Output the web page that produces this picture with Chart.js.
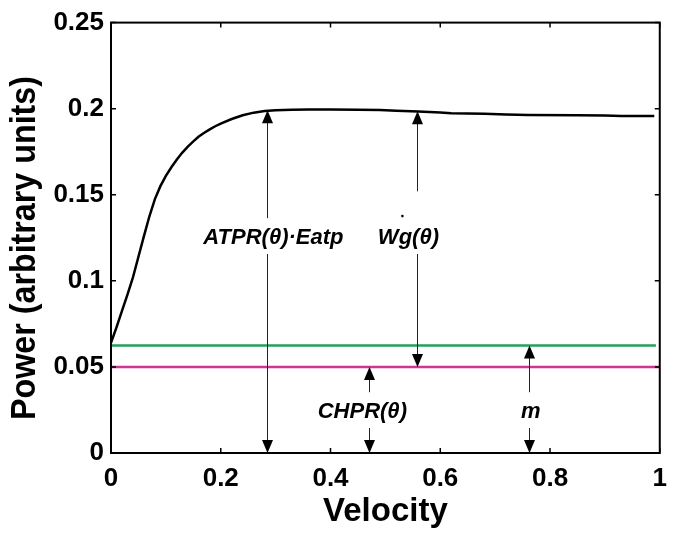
<!DOCTYPE html>
<html>
<head>
<meta charset="utf-8">
<script src="https://cdn.jsdelivr.net/npm/chart.js@4.4.0/dist/chart.umd.min.js"></script>
<style>
  body { margin: 0; background: #fff; }
</style>
</head>
<body>
<canvas id="myChart" width="677" height="540"></canvas>
<script>
// power curve
const velocity = [0, 0.01, 0.02, 0.03, 0.04, 0.05, 0.06, 0.07, 0.08, 0.09, 0.10, 0.11, 0.12, 0.13, 0.14, 0.15, 0.16, 0.17, 0.18, 0.19, 0.20, 0.22, 0.24, 0.26, 0.28, 0.30, 0.33, 0.36, 0.40, 0.45, 0.49, 0.52, 0.56, 0.60, 0.62, 0.68, 0.72, 0.76, 0.85, 0.90, 0.93, 0.99];
const power = [0.064, 0.073, 0.0825, 0.092, 0.102, 0.114, 0.126, 0.1375, 0.1475, 0.155, 0.161, 0.166, 0.1705, 0.1745, 0.178, 0.181, 0.1838, 0.186, 0.188, 0.1898, 0.1913, 0.194, 0.1962, 0.1977, 0.1986, 0.1991, 0.1994, 0.1995, 0.1995, 0.1994, 0.1992, 0.1988, 0.1983, 0.1978, 0.1973, 0.197, 0.1966, 0.1963, 0.1962, 0.196, 0.1957, 0.1957];

// horizontal levels
const greenX = [0, 0.993];
const greenY = [0.0625, 0.0625];
const magentaX = [0, 1];
const magentaY = [0.05, 0.05];

// ticks
const xTickValues = [0, 0.2, 0.4, 0.6, 0.8, 1];
const xTickLabels = ['0', '0.2', '0.4', '0.6', '0.8', '1'];
const yTickValues = [0, 0.05, 0.1, 0.15, 0.2, 0.25];
const yTickLabels = ['0', '0.05', '0.1', '0.15', '0.2', '0.25'];
const yTitle = 'Power (arbitrary units)';

// double arrows and their labels
const arrowX = [0.285, 0.557, 0.47, 0.762];
const arrowLow = [0, 0.05, 0, 0];
const arrowHigh = [0.1991, 0.1985, 0.05, 0.0625];
const gapLow = [0.1156, 0.1156, 0.0145, 0.0145];
const gapHigh = [0.1364, 0.152, 0.0353, 0.0353];
const labelText = ['ATPR(\u03b8)\u00b7Eatp', 'Wg(\u03b8)', 'CHPR(\u03b8)', 'm'];
const labelX = [0.296, 0.542, 0.458, 0.765];
const labelY = [0.125, 0.125, 0.0237, 0.0237];
const dotX = [0.531];
const dotY = [0.1376];

const FONT = "'Liberation Sans', Arial, sans-serif";

const toPts = (xs, ys) => xs.map((x, i) => ({ x: x, y: ys[i] }));

const frame = {
  id: 'frame',
  afterDatasetsDraw(chart) {
    const ctx = chart.ctx;
    const a = chart.chartArea;
    const xs = chart.scales.x, ys = chart.scales.y;
    ctx.save();
    ctx.strokeStyle = '#000';
    ctx.lineWidth = 2;
    ctx.strokeRect(a.left, a.top, a.right - a.left, a.bottom - a.top);
    ctx.lineWidth = 1.5;
    const tl = 5;
    ctx.beginPath();
    xTickValues.forEach(v => {
      const px = xs.getPixelForValue(v);
      ctx.moveTo(px, a.bottom); ctx.lineTo(px, a.bottom - tl);
      ctx.moveTo(px, a.top); ctx.lineTo(px, a.top + tl);
    });
    yTickValues.forEach(v => {
      const py = ys.getPixelForValue(v);
      ctx.moveTo(a.left, py); ctx.lineTo(a.left + tl, py);
      ctx.moveTo(a.right, py); ctx.lineTo(a.right - tl, py);
    });
    ctx.stroke();

    // arrows
    const head = (x, y, dir) => {
      ctx.beginPath();
      ctx.moveTo(x, y);
      ctx.lineTo(x - 5.5, y + dir * 13);
      ctx.lineTo(x + 5.5, y + dir * 13);
      ctx.closePath();
      ctx.fill();
    };
    ctx.fillStyle = '#000';
    ctx.strokeStyle = '#222';
    ctx.lineWidth = 1;
    arrowX.forEach((v, i) => {
      const px = Math.round(xs.getPixelForValue(v)) + 0.5;
      const yLo = ys.getPixelForValue(arrowLow[i]);
      const yHi = ys.getPixelForValue(arrowHigh[i]);
      const gLo = ys.getPixelForValue(gapLow[i]);
      const gHi = ys.getPixelForValue(gapHigh[i]);
      ctx.beginPath();
      ctx.moveTo(px, yHi + 10); ctx.lineTo(px, gHi);
      ctx.moveTo(px, gLo); ctx.lineTo(px, yLo - 10);
      ctx.stroke();
      head(px, yHi, 1);
      head(px, yLo, -1);
    });

    ctx.font = 'italic bold 22px ' + FONT;
    ctx.textAlign = 'center';
    ctx.textBaseline = 'middle';
    labelText.forEach((t, i) => {
      ctx.fillText(t, xs.getPixelForValue(labelX[i]), ys.getPixelForValue(labelY[i]));
    });
    dotX.forEach((v, i) => {
      ctx.beginPath();
      ctx.arc(xs.getPixelForValue(v), ys.getPixelForValue(dotY[i]), 1.3, 0, Math.PI * 2);
      ctx.fill();
    });

    // y title, a bit condensed like the original
    ctx.font = 'bold 35px ' + FONT;
    ctx.textBaseline = 'alphabetic';
    const w = ctx.measureText(yTitle).width;
    ctx.translate(35, 248);
    ctx.rotate(-Math.PI / 2);
    ctx.scale(344 / w, 1);
    ctx.fillText(yTitle, 0, 0);
    ctx.restore();
  }
};

const config = {
  type: 'scatter',
  data: {
    datasets: [
      {
        label: 'magenta',
        data: toPts(magentaX, magentaY),
        showLine: true,
        borderColor: 'rgb(205, 55, 145)',
        borderWidth: 2.5,
        pointRadius: 0
      },
      {
        label: 'green',
        data: toPts(greenX, greenY),
        showLine: true,
        borderColor: 'rgb(35, 160, 90)',
        borderWidth: 2.5,
        pointRadius: 0
      },
      {
        label: 'power',
        data: toPts(velocity, power),
        showLine: true,
        borderColor: '#000',
        borderWidth: 2.5,
        pointRadius: 0
      }
    ]
  },
  options: {
    responsive: false,
    animation: false,
    devicePixelRatio: 1,
    layout: { padding: { top: 21, right: 16, left: 0, bottom: 0 } },
    plugins: {
      legend: { display: false },
      tooltip: { enabled: false }
    },
    scales: {
      x: {
        type: 'linear',
        min: 0,
        max: 1,
        afterBuildTicks: s => { s.ticks = xTickValues.map(v => ({ value: v })); },
        afterFit: s => { s.height = 87; },
        grid: { display: false, drawTicks: false },
        border: { display: false },
        ticks: {
          color: '#000',
          padding: 10,
          maxRotation: 0,
          font: { family: FONT, size: 26, weight: 'bold' },
          callback: (v, i) => xTickLabels[i]
        },
        title: {
          display: true,
          text: 'Velocity',
          color: '#000',
          padding: { top: 0, bottom: 12 },
          font: { family: FONT, size: 33, weight: 'bold', lineHeight: 1 }
        }
      },
      y: {
        type: 'linear',
        min: 0,
        max: 0.25,
        afterBuildTicks: s => { s.ticks = yTickValues.map(v => ({ value: v })); },
        afterFit: s => { s.width = 111; },
        grid: { display: false, drawTicks: false },
        border: { display: false },
        ticks: {
          color: '#000',
          padding: 7,
          font: { family: FONT, size: 26, weight: 'bold' },
          callback: (v, i) => yTickLabels[i]
        },
        title: { display: false }
      }
    }
  },
  plugins: [frame]
};

const myChart = new Chart(document.getElementById('myChart'), config);
</script>
</body>
</html>
